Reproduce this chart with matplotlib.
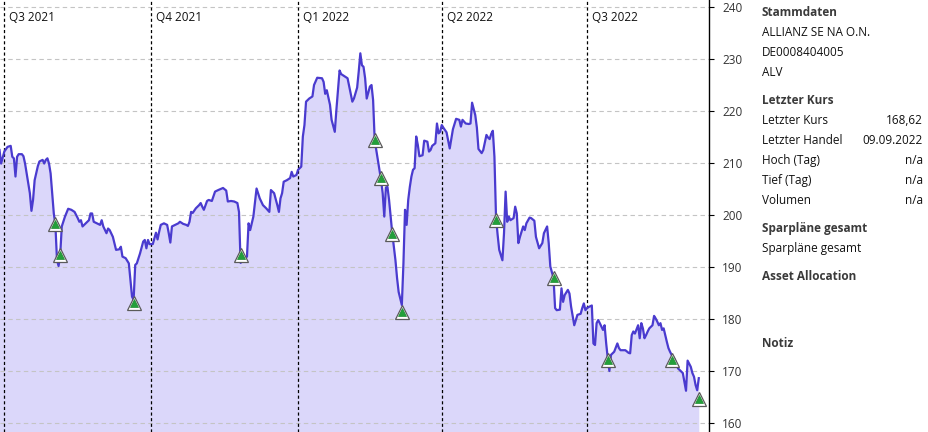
import numpy as np
import pandas as pd
import matplotlib
matplotlib.use("Agg")
import matplotlib.pyplot as plt

plt.rcParams['font.family'] = ['Open Sans', 'DejaVu Sans']

# days since 2021-07-01 and closing price (EUR)
days_a = [-3, -2, 0, 2, 4, 5, 6, 7, 8, 9, 11, 12, 13, 14, 16, 17, 18, 19, 21, 22,
          24, 25, 26, 27, 28, 29, 31, 32, 33, 34, 35, 36, 38, 40, 42, 44, 46, 47, 48, 49,
          51, 53, 54, 55, 56, 58, 60, 61, 62, 64, 65, 66, 68, 70, 72, 73]
close_a = [212.5, 209.9, 212.2, 213.1, 213.3, 211.2, 210.9, 207.4, 211.2, 211.7, 211.7, 211.3, 209.9, 208.0, 204.2, 200.8, 202.9, 206.7, 209.4, 210.3,
           210.6, 209.9, 210.6, 210.9, 209.9, 208.0, 200.3, 198.1, 191.3, 190.2, 192.3, 197.8, 199.7, 201.2, 201.0, 200.6, 199.4, 198.7, 199.0, 197.8,
           198.4, 199.0, 200.3, 200.3, 198.7, 198.4, 198.1, 199.0, 197.8, 196.5, 197.4, 197.1, 195.8, 193.3, 193.4, 193.9]

days_b = [74, 76, 78, 79, 80, 81, 82, 83, 85, 87, 88, 89, 90, 91, 93, 94, 95, 96, 97, 98,
          100, 102, 103, 104, 105, 107, 109, 110, 112, 114, 115, 116, 117, 118, 120, 122, 123, 124, 125, 127,
          128, 130, 132, 134, 137, 139, 140, 142, 144, 146, 147]
close_b = [192.0, 191.7, 190.7, 187.5, 184.3, 183.7, 190.4, 190.7, 192.6, 194.9, 195.2, 193.6, 195.2, 194.4, 194.4, 195.5, 196.6, 195.3, 196.8, 198.1,
           198.4, 198.1, 196.5, 194.7, 197.8, 198.1, 198.4, 198.7, 198.3, 198.1, 197.9, 198.7, 200.6, 200.4, 201.3, 201.9, 202.3, 201.6, 201.0, 202.7,
           202.9, 202.7, 204.5, 204.8, 205.2, 204.7, 202.6, 202.7, 202.6, 202.3, 200.6]

days_c = [148, 151, 152, 153, 154, 156, 158, 160, 162, 164, 166, 167, 169, 171, 172, 173, 174, 175, 177, 179,
          180, 181, 183, 184, 186, 187, 188, 189, 191, 193, 194, 196, 199, 200, 201, 202, 204, 205, 207, 208,
          210, 211, 214, 215, 218, 219, 221, 222, 223, 224, 225, 226, 227, 229, 230, 231, 232, 234, 236, 237,
          238, 239, 240, 241, 242, 243, 245, 246, 247, 249, 250, 251, 252, 253, 254, 255, 256, 257, 258, 259,
          260, 262, 263, 265, 266, 267, 268, 270, 271, 272, 273, 274, 275, 277, 279, 281, 283, 285, 286, 287,
          289, 291, 292, 293, 295, 296, 297, 299, 300, 302, 303, 304, 305, 306, 307]
close_c = [190.8, 191.7, 192.0, 198.4, 197.1, 199.7, 205.1, 203.2, 201.9, 201.3, 200.6, 204.8, 204.2, 201.9, 200.6, 203.2, 204.2, 206.4, 206.7, 207.1,
           208.3, 207.4, 207.7, 208.7, 209.3, 215.1, 217.3, 221.8, 222.4, 222.8, 225.0, 226.4, 226.3, 225.6, 223.3, 224.0, 221.2, 218.3, 216.0, 220.2,
           227.8, 227.1, 226.5, 226.3, 221.8, 222.4, 224.5, 227.6, 231.1, 228.8, 228.5, 226.3, 222.4, 224.7, 225.0, 222.1, 214.4, 210.6, 206.7, 204.2,
           199.7, 205.3, 205.4, 202.9, 199.6, 196.5, 191.3, 187.9, 185.2, 182.7, 190.7, 201.0, 198.1, 202.9, 205.4, 207.4, 208.7, 209.0, 215.1, 213.5,
           211.3, 211.5, 214.3, 214.1, 212.2, 212.5, 213.3, 213.8, 217.6, 215.7, 216.0, 217.3, 216.8, 215.9, 212.8, 216.5, 218.5, 218.3, 217.0, 218.3,
           217.6, 217.5, 217.6, 221.6, 219.2, 216.8, 212.7, 211.9, 212.5, 215.4, 214.9, 214.6, 215.6, 216.2, 211.2]

days_d = [308, 309, 310, 312, 313, 314, 315, 316, 317, 319, 320, 321, 322, 323, 325, 326, 327, 329, 330, 332,
          333, 335, 337, 338, 340, 341, 342, 344, 345, 346, 348, 349, 350, 351, 353, 354, 355, 357, 359, 361,
          362, 363, 364, 365, 366, 368, 369, 370, 371, 372, 373, 375, 376, 377, 378, 379, 380, 382, 384, 385,
          386, 389, 391, 392, 393, 394, 395, 397, 398, 399, 400, 401, 402, 403, 404, 406, 407, 408, 409, 410,
          411, 412, 413, 415, 416, 417, 418, 419, 420, 422, 423, 425, 426, 427, 428, 430, 431, 432, 433, 434,
          435]
close_d = [199.5, 196.2, 193.3, 191.3, 196.5, 204.5, 198.7, 199.7, 199.0, 199.4, 201.6, 200.3, 194.6, 195.8, 197.8, 197.1, 198.4, 199.5, 199.4, 198.9,
           195.8, 193.6, 194.6, 196.5, 197.8, 194.6, 190.1, 187.9, 182.1, 181.7, 181.8, 185.9, 183.3, 184.6, 185.6, 184.9, 182.4, 178.8, 180.8, 181.0,
           182.1, 183.0, 181.7, 182.1, 182.3, 182.6, 175.3, 175.0, 179.2, 179.8, 179.2, 177.9, 178.8, 175.3, 172.4, 170.0, 173.1, 173.7, 175.3, 174.4,
           174.0, 174.0, 173.5, 173.4, 176.9, 177.6, 177.2, 178.8, 176.3, 179.2, 178.2, 176.3, 176.9, 177.6, 178.2, 178.8, 180.6, 180.1, 179.5, 178.8,
           179.2, 177.9, 178.2, 175.6, 174.4, 173.7, 173.1, 172.7, 172.2, 170.5, 170.2, 169.6, 167.9, 166.2, 172.0, 170.8, 169.6, 168.9, 167.3, 166.3,
           168.62]

# savings plan executions (green triangles)
buy_days = [32, 35, 81, 148, 232, 236, 243, 249, 308, 344, 378, 418, 435]
buy_price = [198.3, 192.3, 183.0, 192.4, 214.4, 207.1, 196.3, 181.4, 199.1, 187.8, 172.1, 172.1, 164.7]

quarters = ['2021-07-01', '2021-10-01', '2022-01-01', '2022-04-01', '2022-07-01']
quarter_labels = ['Q3 2021', 'Q4 2021', 'Q1 2022', 'Q2 2022', 'Q3 2022']
yticks = [160, 170, 180, 190, 200, 210, 220, 230, 240]

info_rows = [
    ('Stammdaten', '', True),
    ('ALLIANZ SE NA O.N.', '', False),
    ('DE0008404005', '', False),
    ('ALV', '', False),
    ('Letzter Kurs', '', True),
    ('Letzter Kurs', '168,62', False),
    ('Letzter Handel', '09.09.2022', False),
    ('Hoch (Tag)', 'n/a', False),
    ('Tief (Tag)', 'n/a', False),
    ('Volumen', 'n/a', False),
    ('Sparpläne gesamt', '', True),
    ('Sparpläne gesamt', '', False),
    ('Asset Allocation', '', True),
    ('Notiz', '', True),
]
info_y = [12.7, 32.7, 52.7, 72.7, 100, 120, 140, 160.5, 180.5, 200, 228.3, 248.3, 276, 343.3]

base = pd.Timestamp('2021-07-01')
days = days_a + days_b + days_c + days_d
close = close_a + close_b + close_c + close_d
x = base + pd.to_timedelta(days, unit='D')
xb = base + pd.to_timedelta(buy_days, unit='D')

W, H = 929, 432
fig = plt.figure(figsize=(W / 100, H / 100), dpi=100)
ax = fig.add_axes([0, 0, 709 / W, 1])

line_col = '#4a3bcf'
fill_col = '#dbd7fa'

ax.fill_between(x, close, 150, color=fill_col, lw=0, zorder=1)
ax.plot(x, close, color=line_col, lw=1.6, zorder=4)

for y in yticks:
    ax.axhline(y, color='#c4c4c4', lw=0.8, ls=(0, (4, 3)), zorder=2)
for q, lab in zip(quarters, quarter_labels):
    qd = pd.Timestamp(q)
    ax.axvline(qd, color='black', lw=0.9, ls=(0, (2.5, 2)), zorder=3)
    ax.annotate(lab, xy=(qd, 1), xycoords=('data', 'axes fraction'),
                xytext=(3.5, -12.5), textcoords='offset points',
                va='center', ha='left', fontsize=8.5, color='#111111')

ax.plot(xb, buy_price, ls='none', marker='^', ms=10, mfc='white', mec='#5a5a5a', mew=0.9, zorder=5)
ax.plot(xb, buy_price, ls='none', marker='^', ms=6, mfc='#23a03a', mec='#1c8a30', mew=0.5, zorder=6)

ax.set_xlim(base - pd.Timedelta(days=2.7), base + pd.Timedelta(days=441.4))
ax.set_ylim(158.27, 241.35)
ax.set_facecolor('white')
ax.set_xticks([])
ax.yaxis.tick_right()
ax.set_yticks(yticks)
ax.tick_params(axis='y', length=3.5, width=0.8, pad=6, labelsize=8.5, labelcolor='#333333')
for s in ['top', 'left', 'bottom']:
    ax.spines[s].set_visible(False)
ax.spines['right'].set_color('black')
ax.spines['right'].set_linewidth(1)

for (lab, val, bold), yp in zip(info_rows, info_y):
    fig.text(762 / W, 1 - yp / H, lab, ha='left', va='center', fontsize=8.5,
             fontweight='bold' if bold else 'normal',
             color='#3a3a3a' if bold else '#111111')
    if val:
        fig.text(923 / W, 1 - yp / H, val, ha='right', va='center', fontsize=8.5, color='#111111')

fig.savefig('out.png', dpi=100)
